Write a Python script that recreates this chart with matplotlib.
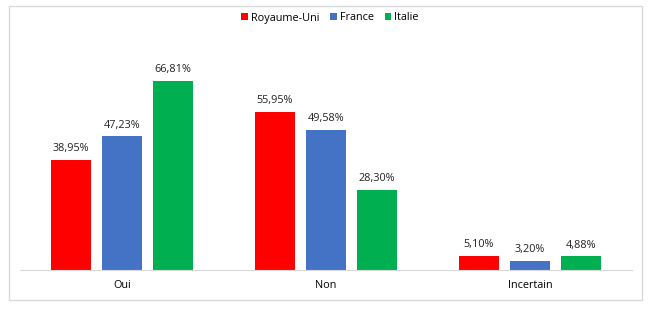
import matplotlib
matplotlib.use('Agg')
import matplotlib.pyplot as plt
from matplotlib.patches import Rectangle

plt.rcParams['font.family'] = ['Open Sans', 'DejaVu Sans']

categories = ['Oui', 'Non', 'Incertain']
series = ['Royaume-Uni', 'France', 'Italie']
values = [
	[38.95, 55.95, 5.10],
	[47.23, 49.58, 3.20],
	[66.81, 28.30, 4.88],
]
colors = ['#FF0000', '#4472C4', '#00B050']

fig = plt.figure(figsize=(6.53, 3.09), dpi=100)
ax = fig.add_axes([20/653, 1 - 270/309, 612/653, 198/309])

offsets = [-0.25, 0, 0.25]
for s, name in enumerate(series):
	xs = [i + offsets[s] for i in range(len(categories))]
	bars = ax.bar(xs, values[s], width=0.2, color=colors[s], label=name)
	for b, v in zip(bars, values[s]):
		ax.text(b.get_x() + b.get_width()/2, v + 2.0, ('%.2f%%' % v).replace('.', ','),
			ha='center', va='bottom', fontsize=7.8, color='#222222')

ax.set_xlim(-0.5, 2.5)
ax.set_ylim(0, 70)
ax.set_xticks(range(len(categories)))
ax.set_xticklabels(categories, fontsize=7.8)
ax.tick_params(axis='x', length=0, pad=7)
ax.set_yticks([])
for side in ['top', 'right', 'left']:
	ax.spines[side].set_visible(False)
ax.spines['bottom'].set_color('#d9d9d9')

leg = fig.legend(loc='center', bbox_to_anchor=(330/653, 1 - 18/309), ncol=3, frameon=False,
	fontsize=7.8, handlelength=0.6, handleheight=0.6, handletextpad=0.3, columnspacing=1.0)

fig.patches.append(Rectangle((9/653, 1 - 300/309), 633/653, 294/309, transform=fig.transFigure,
	fill=False, edgecolor='#d9d9d9', linewidth=1))

fig.savefig('out.png', dpi=100)
